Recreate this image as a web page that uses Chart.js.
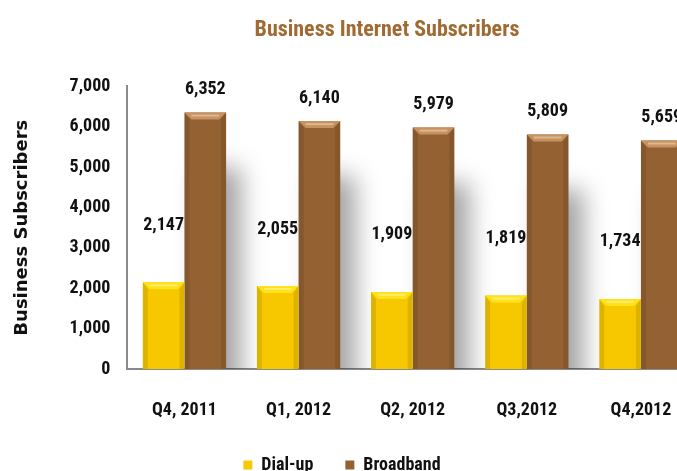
<!DOCTYPE html>
<html>
<head>
<meta charset="utf-8">
<script src="https://cdn.jsdelivr.net/npm/chart.js@4.5.0/dist/chart.umd.min.js"></script>
<style>
  html, body { margin: 0; padding: 0; background: #fff; overflow: hidden; }
  #wrap { position: relative; width: 720px; height: 471px; }
</style>
</head>
<body>
<div id="wrap"><canvas id="subscribers-chart"></canvas></div>
<script>
const QUARTERS = ["Q4, 2011", "Q1, 2012", "Q2, 2012", "Q3,2012", "Q4,2012"];
const DIAL_UP = [2147, 2055, 1909, 1819, 1734];
const BROADBAND = [6352, 6140, 5979, 5809, 5659];
const Y_TICKS = [0, 1000, 2000, 3000, 4000, 5000, 6000, 7000];

const NARROW = "'Roboto Condensed', 'DejaVu Sans Condensed', sans-serif";
const LABEL_LIFT = [57, 23]; // how far the value sits above each series' bar
const TOP_FACE = ["#ffe21a", "#c8925f"];

// shadow behind the brown bars, bevel on every bar
const barLook = {
    id: "barLook",
    beforeDatasetDraw(chart, args) {
        if (args.index !== 1) return;
        const ctx = chart.ctx;
        ctx.save();
        ctx.shadowColor = "rgba(0,0,0,0.36)";
        ctx.shadowBlur = 24;
        ctx.shadowOffsetX = 15;
        ctx.shadowOffsetY = 55;
    },
    afterDatasetDraw(chart, args) {
        const ctx = chart.ctx;
        if (args.index === 1) ctx.restore();
        ctx.save();
        args.meta.data.forEach(bar => {
            const {x, y, base, width} = bar.getProps(["x", "y", "base", "width"], true);
            const l = x - width / 2, r = x + width / 2, b = 7;
            ctx.fillStyle = TOP_FACE[args.index];
            ctx.beginPath();
            ctx.moveTo(l, y); ctx.lineTo(r, y); ctx.lineTo(r - b, y + b); ctx.lineTo(l + b, y + b);
            ctx.closePath(); ctx.fill();
            ctx.fillStyle = "rgba(255,255,255,0.35)";
            ctx.fillRect(l + b, y + 2, width - 2 * b, 2);
            ctx.fillStyle = "rgba(0,0,0,0.10)";
            ctx.beginPath();
            ctx.moveTo(l, y); ctx.lineTo(l + 5, y + b); ctx.lineTo(l + 5, base); ctx.lineTo(l, base);
            ctx.closePath(); ctx.fill();
            ctx.beginPath();
            ctx.moveTo(r, y); ctx.lineTo(r - 5, y + b); ctx.lineTo(r - 5, base); ctx.lineTo(r, base);
            ctx.closePath(); ctx.fill();
        });
        ctx.restore();
    }
};

const valueLabels = {
    id: "valueLabels",
    afterDatasetsDraw(chart) {
        const ctx = chart.ctx;
        ctx.save();
        ctx.font = "bold 18px " + NARROW;
        ctx.fillStyle = "#111";
        ctx.textAlign = "center";
        ctx.textBaseline = "middle";
        chart.data.datasets.forEach((ds, i) => {
            chart.getDatasetMeta(i).data.forEach((bar, j) => {
                ctx.fillText(ds.data[j].toLocaleString("en-US"), bar.x, bar.y - LABEL_LIFT[i]);
            });
        });
        ctx.restore();
    }
};

// title and legend are not centred on the same spot in the original
const shiftBoxes = {
    id: "shiftBoxes",
    afterLayout(chart) {
        chart.titleBlock.left += 32; chart.titleBlock.right += 32;
        chart.legend.left -= 13; chart.legend.right -= 13;
    }
};

new Chart(document.getElementById("subscribers-chart"), {
    type: "bar",
    data: {
        labels: QUARTERS,
        datasets: [
            { label: "Dial-up", data: DIAL_UP, backgroundColor: "#f7c800" },
            { label: "Broadband", data: BROADBAND, backgroundColor: "#946133" }
        ]
    },
    options: {
        responsive: true,
        maintainAspectRatio: false,
        animation: false,
        categoryPercentage: 0.73,
        barPercentage: 1,
        layout: { padding: { top: 17, left: 12, right: 22, bottom: -13 } },
        plugins: {
            title: {
                display: true,
                text: "Business Internet Subscribers",
                color: "#a06a32",
                font: { family: NARROW, size: 22, weight: "bold" },
                padding: { top: 0, bottom: 43 }
            },
            legend: {
                position: "bottom",
                labels: {
                    usePointStyle: true,
                    pointStyle: "rect",
                    boxWidth: 9,
                    boxHeight: 9,
                    padding: 32,
                    color: "#111",
                    font: { family: NARROW, size: 18, weight: "bold" }
                }
            },
            tooltip: { enabled: false }
        },
        scales: {
            x: {
                afterFit(scale) { scale.height = 55; },
                grid: { display: false, drawTicks: false },
                border: { color: "#8a8a8a", width: 2 },
                ticks: { color: "#111", padding: 31, font: { family: NARROW, size: 18, weight: "bold" } }
            },
            y: {
                min: 0,
                max: 7000,
                afterBuildTicks(scale) { scale.ticks = Y_TICKS.map(v => ({ value: v })); },
                grid: { display: false, drawTicks: false },
                border: { color: "#8a8a8a", width: 2 },
                ticks: {
                    color: "#111",
                    padding: 17,
                    font: { family: NARROW, size: 18, weight: "bold" },
                    callback: v => v.toLocaleString("en-US")
                },
                title: {
                    display: true,
                    text: "Business Subscribers",
                    color: "#111",
                    font: { family: "'DejaVu Sans', sans-serif", size: 18, weight: "bold" },
                    padding: { top: 0, bottom: 19 }
                }
            }
        }
    },
    plugins: [barLook, valueLabels, shiftBoxes]
});
</script>
</body>
</html>
